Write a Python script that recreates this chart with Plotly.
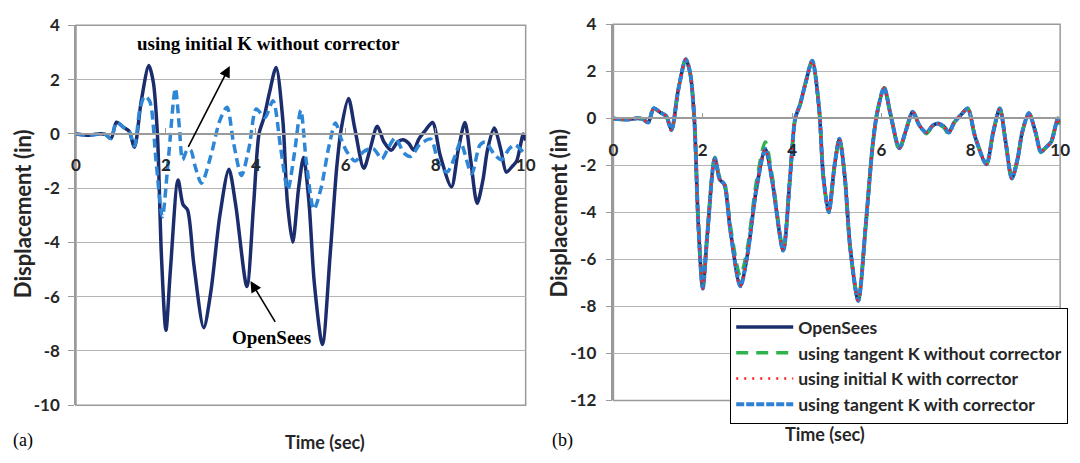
import plotly.graph_objects as go

# ---------------- data ----------------
# time axis shared by OpenSees-type curves (sec)
T = [0.0, 0.3, 0.5, 0.65, 0.78, 0.9, 1.05, 1.18, 1.30, 1.45, 1.62, 1.72, 1.81, 1.90, 2.00,
     2.10, 2.27, 2.38, 2.48, 2.62, 2.84, 3.00, 3.20, 3.40, 3.55, 3.80, 3.95, 4.07, 4.18, 4.30,
     4.45, 4.60, 4.70, 4.82, 4.95, 5.06, 5.18, 5.30, 5.48, 5.65, 5.80, 5.90, 6.06, 6.20, 6.40,
     6.55, 6.70, 6.85, 7.01, 7.15, 7.27, 7.40, 7.51, 7.62, 7.78, 7.93, 8.10, 8.35, 8.50, 8.65,
     8.78, 8.92, 9.05, 9.15, 9.30, 9.45, 9.57, 9.70, 9.80, 9.95, 10.0]

opensees = [0.0, -0.05, 0.0, -0.02, -0.17, 0.43, 0.25, 0.10, -0.49, 1.20, 2.52, 1.90, 0.0, -4.5, -7.24,
            -5.0, -1.70, -2.6, -2.8, -4.8, -7.14, -5.8, -3.0, -1.30, -2.6, -5.62, -2.6, 0.0, 0.6, 1.5,
            2.45, 0.5, -2.5, -3.99, -2.0, -0.87, -2.5, -5.5, -7.76, -4.5, -1.2, 0.2, 1.30, 0.2, -1.27,
            -0.5, 0.28, -0.3, -0.60, -0.3, -0.22, -0.35, -0.60, -0.2, 0.15, 0.42, -0.8, -1.95, -0.6, 0.42,
            -1.0, -2.56, -1.7, -0.6, 0.22, -0.6, -1.41, -1.2, -1.0, 0.0, -0.25]

tangent_no_corr = [0.0, -0.05, 0.0, -0.02, -0.17, 0.43, 0.25, 0.10, -0.49, 1.20, 2.52, 1.90, 0.0, -4.4, -7.10,
                   -4.9, -1.65, -2.5, -2.7, -4.6, -6.70, -5.5, -2.7, -1.00, -2.4, -5.55, -2.6, 0.0, 0.6, 1.5,
                   2.45, 0.5, -2.5, -3.95, -2.0, -0.87, -2.5, -5.5, -7.70, -4.5, -1.2, 0.2, 1.30, 0.2, -1.35,
                   -0.5, 0.28, -0.3, -0.65, -0.3, -0.25, -0.40, -0.70, -0.2, 0.15, 0.42, -0.8, -1.95, -0.6, 0.42,
                   -1.0, -2.56, -1.7, -0.6, 0.22, -0.6, -1.45, -1.2, -1.0, 0.0, -0.25]

initial_corr = [0.0, -0.05, 0.0, -0.02, -0.17, 0.43, 0.25, 0.10, -0.49, 1.20, 2.52, 1.90, 0.0, -4.5, -7.24,
                -5.0, -1.70, -2.6, -2.8, -4.8, -7.14, -5.8, -3.0, -1.30, -2.6, -5.62, -2.6, 0.0, 0.6, 1.5,
                2.45, 0.5, -2.5, -3.99, -2.0, -0.87, -2.5, -5.5, -7.76, -4.5, -1.2, 0.2, 1.30, 0.2, -1.27,
                -0.5, 0.28, -0.3, -0.60, -0.3, -0.22, -0.35, -0.60, -0.2, 0.15, 0.42, -0.8, -1.95, -0.6, 0.42,
                -1.0, -2.56, -1.7, -0.6, 0.22, -0.6, -1.41, -1.2, -1.0, 0.0, -0.25]

tangent_corr = [0.0, -0.05, 0.0, -0.02, -0.17, 0.43, 0.25, 0.10, -0.49, 1.20, 2.52, 1.90, 0.0, -4.5, -7.24,
                -5.0, -1.70, -2.6, -2.8, -4.8, -7.14, -5.8, -3.0, -1.30, -2.6, -5.62, -2.6, 0.0, 0.6, 1.5,
                2.45, 0.5, -2.5, -3.99, -2.0, -0.87, -2.5, -5.5, -7.76, -4.5, -1.2, 0.2, 1.30, 0.2, -1.27,
                -0.5, 0.28, -0.3, -0.60, -0.3, -0.22, -0.35, -0.60, -0.2, 0.15, 0.42, -0.8, -1.95, -0.6, 0.42,
                -1.0, -2.56, -1.7, -0.6, 0.22, -0.6, -1.41, -1.2, -1.0, 0.0, -0.25]

# "using initial K without corrector" (panel a)
T_init = [0.0, 0.3, 0.5, 0.65, 0.78, 0.9, 1.05, 1.18, 1.30, 1.42, 1.53, 1.64, 1.78, 1.92, 2.05,
          2.21, 2.30, 2.37, 2.47, 2.55, 2.65, 2.79, 3.00, 3.20, 3.36, 3.50, 3.68, 3.85, 4.01, 4.20,
          4.38, 4.55, 4.71, 4.85, 5.00, 5.12, 5.29, 5.45, 5.62, 5.77, 5.90, 6.02, 6.21, 6.40, 6.61,
          6.80, 6.95, 7.10, 7.30, 7.45, 7.63, 7.89, 8.07, 8.25, 8.44, 8.55, 8.80, 8.98, 9.10, 9.31,
          9.46, 9.64, 9.76, 9.97, 10.0]
initial_no_corr = [0.0, -0.05, 0.0, -0.02, -0.17, 0.43, 0.25, 0.10, -0.45, 0.9, 1.39, 1.20, -1.0, -3.05, -1.0,
                   1.68, 0.2, -0.95, -0.6, -0.6, -1.2, -1.82, -0.8, 0.5, 0.98, -0.3, -1.53, -0.5, 0.92, 0.6,
                   1.22, -0.5, -2.06, -0.8, 0.87, -1.0, -2.78, -2.0, -0.5, 0.4, -0.2, -0.65, -1.0, -0.65, -0.54,
                   -0.92, -0.5, -0.15, -0.72, -0.83, -0.42, -0.19, -1.12, -1.41, -0.77, -0.3, -1.47, -0.42, -0.3, -0.77,
                   -0.95, -0.54, -0.4, -0.71, -0.75]

x_ticks = [0, 2, 4, 6, 8, 10]
y_ticks_a = [-10, -8, -6, -4, -2, 0, 2, 4]
y_ticks_b = [-12, -10, -8, -6, -4, -2, 0, 2, 4]

# ---------------- styles ----------------
W, H = 1080, 463
NAVY = "#1C2D6E"
LBLUE = "#2E86D6"
GREEN = "#2DB34A"
RED = "#FF1A1A"
BLUE2 = "#2F80D2"
GRID = "#B4B4B4"
AXC = "#9A9A9A"
SANS = "Lato"
SERIF = "Liberation Serif"
TXT = "#262626"

def px_x(p):
    return p / W

def px_y(p):
    return 1 - p / H

xa_dom = [px_x(72), px_x(528)]
ya_dom = [px_y(413), px_y(15)]
xb_dom = [px_x(617), px_x(1070)]
yb_dom = [px_y(408), px_y(14)]

def zero_pos(dom, lo, hi):
    return dom[0] + (0 - lo) / (hi - lo) * (dom[1] - dom[0])

fig = go.Figure()

SPL = dict(shape="spline", smoothing=0.8)

# panel (a)
fig.add_trace(go.Scatter(x=T, y=opensees, mode="lines", line=dict(color=NAVY, width=3.5, **SPL),
                         xaxis="x", yaxis="y", showlegend=False, name="OpenSees"))
fig.add_trace(go.Scatter(x=T_init, y=initial_no_corr, mode="lines",
                         line=dict(color=LBLUE, width=3.5, dash="9px,5px", **SPL),
                         xaxis="x", yaxis="y", showlegend=False, name="using initial K without corrector"))

# panel (b)
fig.add_trace(go.Scatter(x=T, y=opensees, mode="lines", name="OpenSees", legendrank=1,
                         line=dict(color=NAVY, width=3.5, **SPL), xaxis="x2", yaxis="y2"))
fig.add_trace(go.Scatter(x=T, y=tangent_no_corr, mode="lines", name="using tangent K without corrector", legendrank=2,
                         line=dict(color=GREEN, width=3.5, dash="12px,8px", **SPL), xaxis="x2", yaxis="y2"))
fig.add_trace(go.Scatter(x=T, y=tangent_corr, mode="lines", name="using tangent K with corrector", legendrank=4,
                         line=dict(color=BLUE2, width=4, dash="8px,2px", **SPL), xaxis="x2", yaxis="y2"))
fig.add_trace(go.Scatter(x=T, y=initial_corr, mode="lines", name="using initial K with corrector", legendrank=3,
                         line=dict(color=RED, width=2.5, dash="2px,6px", **SPL), xaxis="x2", yaxis="y2"))

tickfont = dict(family=SANS, size=17, color=TXT, weight="bold")

def yaxis(dom, rng, ticks, anchor, standoff):
    return dict(domain=dom, range=rng, tickvals=ticks, ticktext=[str(v) for v in ticks],
                showgrid=True, gridcolor=GRID, gridwidth=1.2,
                zeroline=False, showline=True, linecolor=AXC, linewidth=1.5, ticks="outside", ticklen=6,
                tickcolor=AXC, tickfont=tickfont, anchor=anchor, ticklabelstandoff=standoff, fixedrange=True)

def xaxis(dom, ydom, yrng, standoff):
    return dict(domain=dom, range=[0, 10], tickvals=x_ticks, ticktext=[str(v) for v in x_ticks],
                showgrid=False, zeroline=False,
                showline=True, linecolor=AXC, linewidth=1.5, ticks="inside", ticklen=5, tickcolor=AXC,
                tickfont=tickfont, anchor="free", position=zero_pos(ydom, yrng[0], yrng[1]),
                ticklabelstandoff=standoff, fixedrange=True)

fig.update_layout(
    width=W, height=H,
    margin=dict(l=0, r=0, t=0, b=0),
    paper_bgcolor="white", plot_bgcolor="white",
    xaxis=xaxis(xa_dom, ya_dom, [-10, 4], 16),
    yaxis=yaxis(ya_dom, [-10, 4], y_ticks_a, "x", 5),
    xaxis2=xaxis(xb_dom, yb_dom, [-12, 4], 16),
    yaxis2=yaxis(yb_dom, [-12, 4], y_ticks_b, "x2", 6),
    legend=dict(x=px_x(1078), y=px_y(311), xanchor="right", yanchor="top",
                bgcolor="white", bordercolor="black", borderwidth=1.2,
                font=dict(family=SANS, size=17.5, color=TXT, weight="bold"),
                traceorder="normal", tracegroupgap=0, itemwidth=57),
    showlegend=True,
)

for xr, yr in [("x domain", "y domain"), ("x2 domain", "y2 domain")]:
    fig.add_shape(type="rect", xref=xr, yref=yr, x0=0, x1=1, y0=0, y1=1,
                  line=dict(color=AXC, width=1.5), layer="below")

TFONT = dict(family=SANS, size=22, color=TXT, weight="bold")
XFONT = dict(family=SANS, size=18, color=TXT, weight="bold")
ann = []
ann.append(dict(text="Displacement (in)", x=px_x(18), y=px_y(212), xref="paper", yref="paper",
                xanchor="center", yanchor="middle", textangle=-90, showarrow=False, font=TFONT))
ann.append(dict(text="Displacement (in)", x=px_x(561), y=px_y(212), xref="paper", yref="paper",
                xanchor="center", yanchor="middle", textangle=-90, showarrow=False, font=TFONT))
ann.append(dict(text="Time (sec)", x=px_x(324), y=px_y(452), xref="paper", yref="paper",
                xanchor="center", yanchor="middle", showarrow=False, font=XFONT))
ann.append(dict(text="Time (sec)", x=px_x(832), y=px_y(443), xref="paper", yref="paper",
                xanchor="center", yanchor="middle", showarrow=False, font=XFONT))
ann.append(dict(text="(a)", x=px_x(6), y=px_y(450), xref="paper", yref="paper", xanchor="left",
                yanchor="middle", showarrow=False, font=dict(family=SERIF, size=18, color="black")))
ann.append(dict(text="(b)", x=px_x(553), y=px_y(450), xref="paper", yref="paper", xanchor="left",
                yanchor="middle", showarrow=False, font=dict(family=SERIF, size=18, color="black")))
ann.append(dict(text="<b>using initial K without corrector</b>", x=4.28, y=3.33, xref="x", yref="y",
                xanchor="center", yanchor="middle", showarrow=False, font=dict(family=SERIF, size=19, color="black")))
ann.append(dict(text="", x=3.42, y=2.5, ax=2.48, ay=-0.53, xref="x", yref="y", axref="x", ayref="y",
                showarrow=True, arrowhead=2, arrowsize=1.4, arrowwidth=1.6, arrowcolor="black"))
ann.append(dict(text="<b>OpenSees</b>", x=4.34, y=-7.5, xref="x", yref="y",
                xanchor="center", yanchor="middle", showarrow=False, font=dict(family=SERIF, size=19, color="black")))
ann.append(dict(text="", x=3.88, y=-5.42, ax=4.45, ay=-6.98, xref="x", yref="y", axref="x", ayref="y",
                showarrow=True, arrowhead=2, arrowsize=1.4, arrowwidth=1.6, arrowcolor="black"))
fig.update_layout(annotations=ann)

fig.write_html("out.html")
